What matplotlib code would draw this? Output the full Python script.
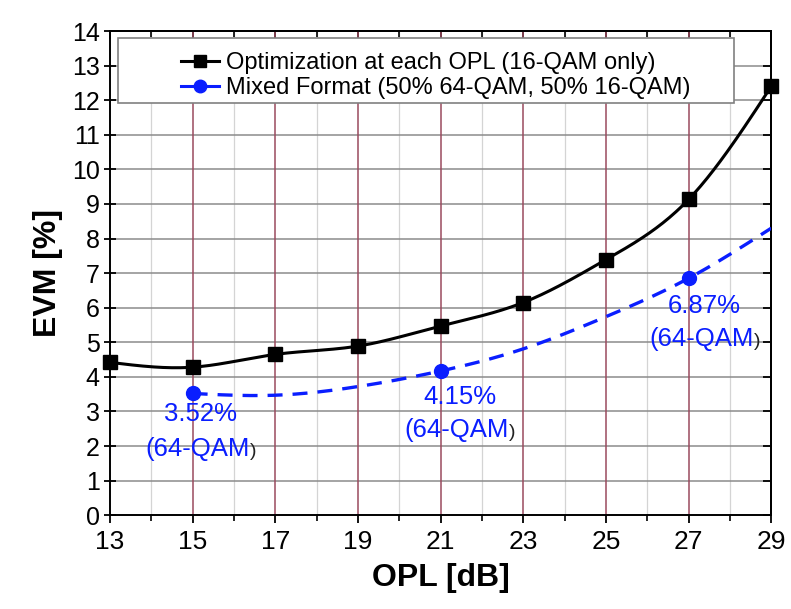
import numpy as np
import matplotlib

matplotlib.use("Agg")
import matplotlib.pyplot as plt
from matplotlib.patches import Rectangle
from matplotlib.offsetbox import TextArea, HPacker, AnnotationBbox

plt.rcParams["font.family"] = ["Liberation Sans", "DejaVu Sans"]

# data
opl = [13, 15, 17, 19, 21, 23, 25, 27, 29]
evm_16qam = [4.42, 4.28, 4.65, 4.89, 5.47, 6.15, 7.39, 9.13, 12.4]

opl_mixed = [15, 17, 19, 21, 23, 25, 27, 29]
evm_mixed = [3.52, 3.47, 3.72, 4.17, 4.81, 5.74, 6.85, 8.3]
mixed_marked = [15, 21, 27]

# (percent label, x, y, format label x, y)
notes = [
    ("3.52%", 15.2, 2.92, 15.2, 1.91),
    ("4.15%", 21.46, 3.41, 21.47, 2.46),
    ("6.87%", 27.37, 6.04, 27.39, 5.09),
]

x_ticks = list(range(13, 30, 2))
x_minor = list(range(14, 29, 2))
y_ticks = list(range(0, 15))

BLUE = "#0a1eff"


def natural_spline(x, y, n=300):
    x = np.asarray(x, float)
    y = np.asarray(y, float)
    k = len(x)
    h = np.diff(x)
    A = np.zeros((k, k))
    b = np.zeros(k)
    A[0, 0] = A[-1, -1] = 1
    for i in range(1, k - 1):
        A[i, i - 1] = h[i - 1]
        A[i, i] = 2 * (h[i - 1] + h[i])
        A[i, i + 1] = h[i]
        b[i] = 3 * ((y[i + 1] - y[i]) / h[i] - (y[i] - y[i - 1]) / h[i - 1])
    c = np.linalg.solve(A, b)
    xs = np.linspace(x[0], x[-1], n)
    ys = np.empty_like(xs)
    for j, xv in enumerate(xs):
        i = min(np.searchsorted(x, xv, side="right") - 1, k - 2)
        dx = xv - x[i]
        bi = (y[i + 1] - y[i]) / h[i] - h[i] * (2 * c[i] + c[i + 1]) / 3
        di = (c[i + 1] - c[i]) / (3 * h[i])
        ys[j] = y[i] + bi * dx + c[i] * dx ** 2 + di * dx ** 3
    return xs, ys


fig = plt.figure(figsize=(7.91, 6.09), dpi=100)
ax = fig.add_axes([0.139, 0.154, 0.836, 0.795])

ax.set_xlim(13, 29)
ax.set_ylim(0, 14)
ax.set_xticks(x_ticks)
ax.set_xticks(x_minor, minor=True)
ax.set_yticks(y_ticks)

# grid
for v in x_minor:
    ax.axvline(v, color="#d4d4d4", lw=0.9, zorder=0)
for v in y_ticks[1:-1]:
    ax.axhline(v, color="#8c8c8c", lw=1.1, zorder=0)
for v in x_ticks[1:-1]:
    ax.axvline(v, color="#9a4a5e", lw=1.1, zorder=0.5)

# black curve
xs, ys = natural_spline(opl, evm_16qam)
ax.plot(xs, ys, color="black", lw=2.2, zorder=3)
ax.plot(opl, evm_16qam, ls="none", marker="s", ms=10, color="black", zorder=4,
        clip_on=False)

# blue dashed curve
xs2, ys2 = natural_spline(opl_mixed, evm_mixed)
ax.plot(xs2, ys2, color=BLUE, lw=2.4, ls=(0, (4.5, 3)), zorder=3)
mk_y = [evm_mixed[opl_mixed.index(v)] for v in mixed_marked]
ax.plot(mixed_marked, mk_y, ls="none", marker="o", ms=10, color=BLUE, zorder=4)

# legend
h1, = ax.plot([], [], color="black", lw=2.2, marker="s", ms=9)
h2, = ax.plot([], [], color=BLUE, lw=2.2, marker="o", ms=9)
ax.add_patch(Rectangle((0.012, 0.851), 0.931, 0.134, transform=ax.transAxes,
                       facecolor="white", edgecolor="#808080", lw=1.2, zorder=5))
leg = ax.legend([h1, h2],
                ["Optimization at each OPL (16-QAM only)",
                 "Mixed Format (50% 64-QAM, 50% 16-QAM)"],
                loc="center", bbox_to_anchor=(0.493, 0.908), frameon=False,
                fontsize=17, handlelength=1.6, handletextpad=0.3,
                labelspacing=0.12, borderpad=0)
leg.set_zorder(6)

# annotations
for pct, px, py, qx, qy in notes:
    ax.text(px, py, pct, color=BLUE, fontsize=18.5, ha="center", va="center",
            zorder=6)
    box = HPacker(children=[
        TextArea("(64-QAM", textprops=dict(color=BLUE, fontsize=18.5)),
        TextArea(")", textprops=dict(color="#222222", fontsize=14)),
    ], sep=0, pad=0, align="baseline")
    ab = AnnotationBbox(box, (qx, qy), frameon=False, box_alignment=(0.5, 0.5),
                        zorder=6)
    ax.add_artist(ab)

# ticks and spines
for s in ax.spines.values():
    s.set_linewidth(1.4)
ax.tick_params(axis="x", which="major", direction="out", length=6, width=1.3,
               labelsize=19, pad=5)
ax.tick_params(axis="x", which="minor", direction="out", length=4, width=1.2)
ax.tick_params(axis="y", which="major", direction="inout", length=8, width=1.3,
               labelsize=18)

top = ax.secondary_xaxis("top")
top.set_xticks(x_ticks)
top.set_xticks(x_minor, minor=True)
top.tick_params(which="major", direction="in", length=6, width=1.3, labeltop=False)
top.tick_params(which="minor", direction="in", length=4, width=1.2)
top.spines["top"].set_linewidth(1.4)

right = ax.secondary_yaxis("right")
right.set_yticks(y_ticks)
right.tick_params(direction="in", length=6, width=1.3, labelright=False)
right.spines["right"].set_linewidth(1.4)

ax.set_xlabel("OPL [dB]", fontsize=23, fontweight="bold", labelpad=6)
ax.set_ylabel("EVM [%]", fontsize=23, fontweight="bold", labelpad=6)

fig.savefig("out.png", dpi=100)
